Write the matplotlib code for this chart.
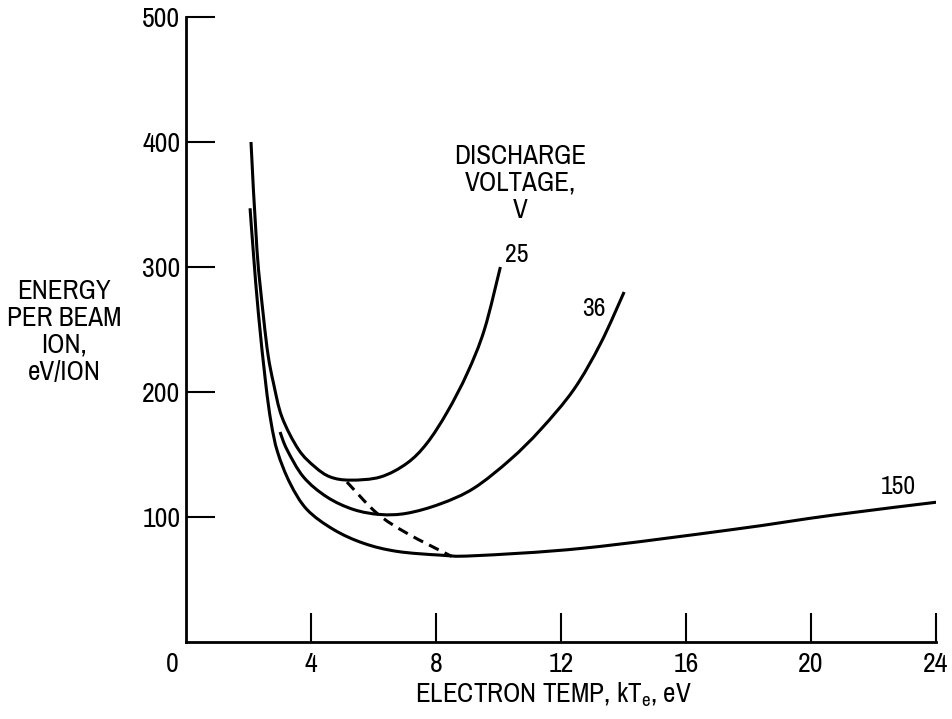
import matplotlib
matplotlib.use("Agg")
import matplotlib.pyplot as plt
import matplotlib.font_manager as fm
from matplotlib.path import Path
from matplotlib.patches import PathPatch

# pick a narrow face if one is around, the original lettering is condensed
entries = fm.fontManager.ttflist
narrow = sorted({f.name for f in entries if 'Narrow' in f.name or 'Condensed' in f.name})
stretch = 'normal'
if narrow:
    family = narrow[0]
elif any(f.name == 'DejaVu Sans' and f.stretch == 'condensed' for f in entries):
    family = 'DejaVu Sans'
    stretch = 'condensed'
else:
    family = 'Roboto'
plt.rcParams['font.family'] = [family, 'DejaVu Sans']
plt.rcParams['font.stretch'] = stretch
plt.rcParams['mathtext.fontset'] = 'custom'
plt.rcParams['mathtext.rm'] = family

# discharge voltage 25 V
v25_x = [2.08, 2.27, 2.48, 2.63, 2.80, 3.07, 3.60, 4.13, 4.62, 5.26, 6.22, 7.07, 7.71, 8.36, 9.0, 9.55, 10.06]
v25_y = [400, 314, 260, 229, 207, 180, 154, 140, 132, 129.5, 132, 143, 159, 184, 215, 250, 300]

# discharge voltage 36 V
v36_x = [3.01, 3.23, 3.76, 4.51, 5.36, 6.22, 7.07, 8.14, 9.21, 10.38, 11.35, 12.41, 13.27, 14.02]
v36_y = [168, 154, 132, 116, 106, 102, 103, 110.5, 123, 146, 170, 202, 239, 280]

# discharge voltage 150 V
v150_x = [2.05, 2.16, 2.32, 2.55, 2.72, 2.93, 3.33, 3.87, 4.72, 5.68, 6.75, 8.14, 9.21, 12.7, 17.5, 20.7, 24.07]
v150_y = [347, 310, 262, 207, 176, 152, 127, 106, 90, 79, 72.5, 69.5, 69, 75, 90, 101.5, 112]

# dashed locus of minima
min_x = [5.15, 6.11, 7.07, 8.5]
min_y = [128, 103, 87, 68.5]

xticks = [4, 8, 12, 16, 20, 24]
yticks = [100, 200, 300, 400, 500]


def smooth_path(xs, ys):
    # catmull-rom through the read points, drawn as bezier segments
    pts = list(zip(xs, ys))
    n = len(pts)
    verts = [pts[0]]
    codes = [Path.MOVETO]
    for i in range(n - 1):
        p0 = pts[i - 1] if i > 0 else pts[i]
        p1 = pts[i]
        p2 = pts[i + 1]
        p3 = pts[i + 2] if i + 2 < n else p2
        c1 = (p1[0] + (p2[0] - p0[0]) / 6, p1[1] + (p2[1] - p0[1]) / 6)
        c2 = (p2[0] - (p3[0] - p1[0]) / 6, p2[1] - (p3[1] - p1[1]) / 6)
        verts += [c1, c2, p2]
        codes += [Path.CURVE4] * 3
    return Path(verts, codes)


fig = plt.figure(figsize=(9.53, 7.19), dpi=100)
ax = fig.add_axes([186 / 953, 77 / 719, 750 / 953, 625 / 719])

lw = 2.2
for xs, ys in [(v25_x, v25_y), (v36_x, v36_y), (v150_x, v150_y)]:
    ax.add_patch(PathPatch(smooth_path(xs, ys), fill=False, lw=lw,
                           edgecolor='black', capstyle='butt'))
ax.add_patch(PathPatch(smooth_path(min_x, min_y), fill=False, lw=lw,
                       edgecolor='black', linestyle=(0, (3.5, 2.2))))

ax.set_xlim(0, 24)
ax.set_ylim(0, 500)
ax.set_xticks(xticks)
ax.set_yticks(yticks)
ax.tick_params(direction='in', length=21, width=1.5, labelsize=20, color='black')
ax.tick_params(axis='x', pad=7)
ax.tick_params(axis='y', pad=4)
for s in ['top', 'right']:
    ax.spines[s].set_visible(False)
for s in ['left', 'bottom']:
    ax.spines[s].set_linewidth(2)
ax.text(-0.45, -0.0155, '0', transform=ax.get_xaxis_transform(),
        ha='center', va='top', fontsize=20)

ax.text(10.6, 310, '25', fontsize=18.5, ha='center', va='center')
ax.text(13.05, 267, '36', fontsize=18.5, ha='center', va='center')
ax.text(22.8, 124, '150', fontsize=18.5, ha='center', va='center')
ax.text(10.7, 367, 'DISCHARGE\nVOLTAGE,\nV', fontsize=19.5, ha='center', va='center',
        multialignment='center', linespacing=1.1)

fig.text(64 / 953, 1 - 332 / 719, 'ENERGY\nPER BEAM\nION,\neV/ION', fontsize=19.5,
         ha='center', va='center', multialignment='center', linespacing=1.1)
fig.text(553 / 953, 1 - 695 / 719, r'ELECTRON TEMP, kT$_\mathrm{e}$, eV', fontsize=19.5,
         ha='center', va='center')

fig.savefig('out.png', dpi=100)
